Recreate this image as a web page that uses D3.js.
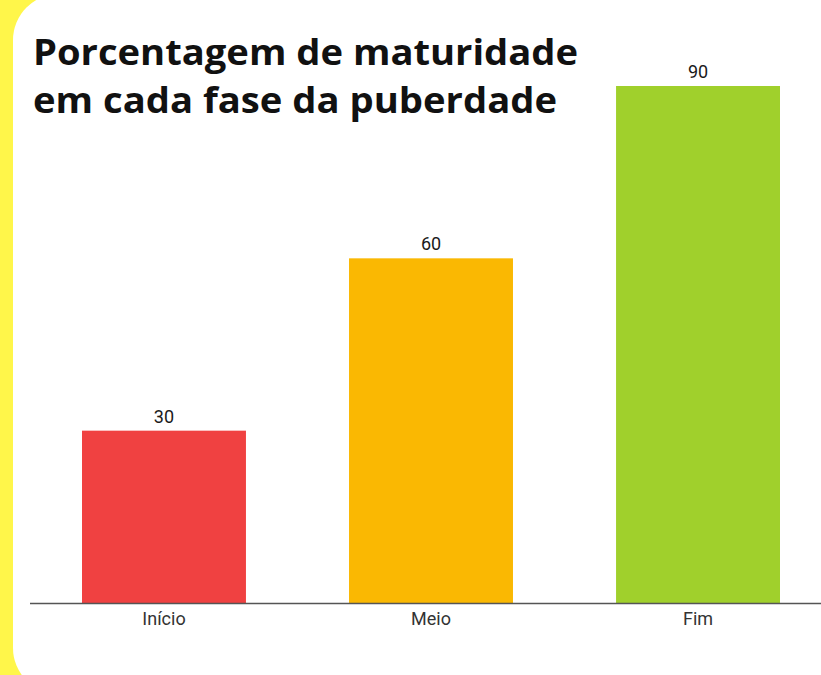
<!DOCTYPE html>
<html>
<head>
<meta charset="utf-8">
<script src="https://cdn.jsdelivr.net/npm/d3@7"></script>
<style>
  html, body { margin: 0; padding: 0; background: #fff64a; }
  svg { display: block; }
</style>
</head>
<body>
<svg id="chart"></svg>
<script>
const width = 821;
const height = 675;

// dados
const fases = ["Início", "Meio", "Fim"];
const valores = [30, 60, 90];
const cores = ["#f04141", "#fab802", "#a0d02c"];
const titulo = ["Porcentagem de maturidade", "em cada fase da puberdade"];

const svg = d3.select("#chart")
  .attr("width", width)
  .attr("height", height);

// fundo amarelo + cartão branco arredondado
svg.append("rect")
  .attr("width", width).attr("height", height)
  .attr("fill", "#fff64a");

svg.append("rect")
  .attr("x", 13).attr("y", -6)
  .attr("width", 900).attr("height", 700)
  .attr("rx", 46).attr("ry", 46)
  .attr("fill", "#ffffff");

const baseY = 603;

const x = d3.scaleBand()
  .domain(fases)
  .range([82, 780])
  .paddingInner(0.386)
  .paddingOuter(0);

const y = d3.scaleLinear()
  .domain([0, 90])
  .range([baseY, 86]);

// barras
svg.selectAll(".bar")
  .data(fases)
  .join("rect")
  .attr("class", "bar")
  .attr("x", d => x(d))
  .attr("y", (d, i) => y(valores[i]))
  .attr("width", x.bandwidth())
  .attr("height", (d, i) => baseY - y(valores[i]))
  .attr("fill", (d, i) => cores[i]);

// rótulos de valor
svg.selectAll(".valor")
  .data(fases)
  .join("text")
  .attr("class", "valor")
  .attr("x", d => x(d) + x.bandwidth() / 2)
  .attr("y", (d, i) => y(valores[i]) - 8)
  .attr("text-anchor", "middle")
  .attr("font-family", "Roboto, sans-serif")
  .attr("font-size", 18)
  .attr("fill", "#1a1a1a")
  .text((d, i) => valores[i]);

// eixo x
const xAxis = svg.append("g")
  .attr("transform", `translate(0,${baseY})`)
  .call(d3.axisBottom(x).tickSize(0).tickPadding(9));

xAxis.select(".domain").remove();
xAxis.selectAll("text")
  .attr("font-family", "Roboto, sans-serif")
  .attr("font-size", 18)
  .attr("fill", "#333");

svg.append("line")
  .attr("x1", 30).attr("x2", width)
  .attr("y1", baseY + 0.5).attr("y2", baseY + 0.5)
  .attr("stroke", "#555")
  .attr("stroke-width", 1.5);

// título
const larguras = [545, 524];
svg.append("text")
  .attr("x", 33)
  .attr("font-family", "'Open Sans', sans-serif")
  .attr("font-weight", "bold")
  .attr("font-size", 35)
  .attr("fill", "#111")
  .selectAll("tspan")
  .data(titulo)
  .join("tspan")
  .attr("x", 33)
  .attr("y", (d, i) => 65 + i * 48)
  .attr("textLength", (d, i) => larguras[i])
  .attr("lengthAdjust", "spacingAndGlyphs")
  .text(d => d);
</script>
</body>
</html>
